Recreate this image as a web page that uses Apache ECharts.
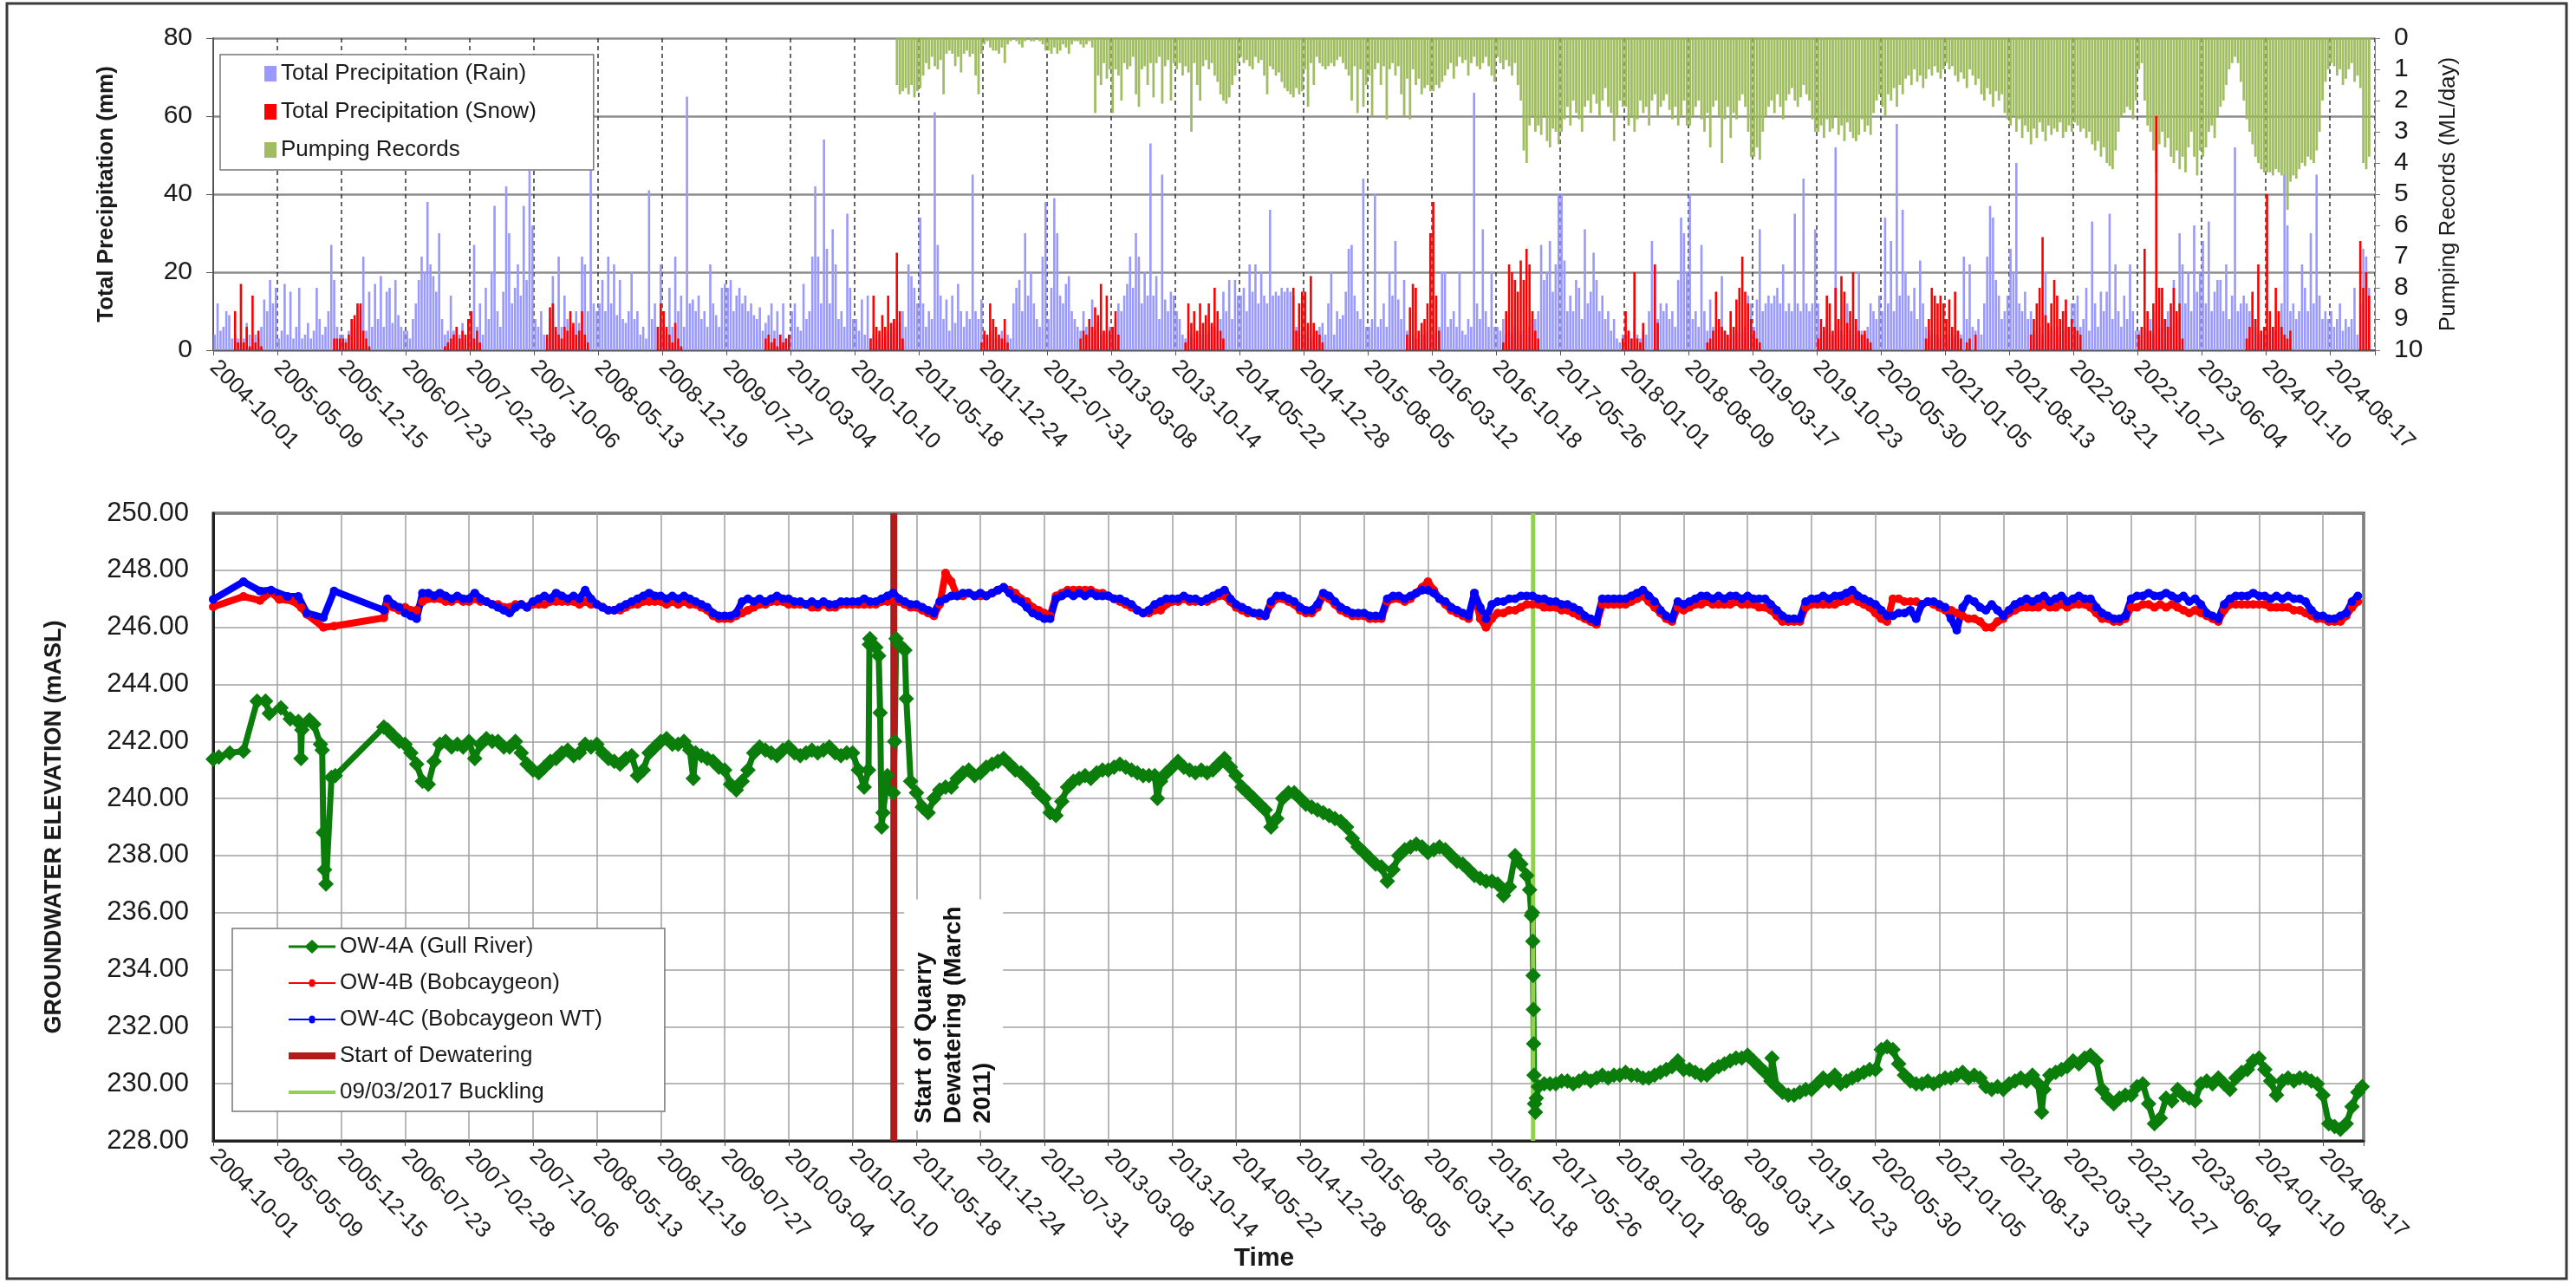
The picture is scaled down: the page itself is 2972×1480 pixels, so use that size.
<!DOCTYPE html>
<html>
<head>
<meta charset="utf-8">
<script src="https://cdn.jsdelivr.net/npm/echarts@6/dist/echarts.min.js"></script>
<style>html,body{margin:0;padding:0;background:#fff}#c{width:2972px;height:1480px}</style>
</head>
<body>
<div id="c"></div>
<script>
// ---------- time base ----------
const START_UTC = Date.UTC(2004, 9, 1);      // 2004-10-01 = day 0
const TICK_DAYS = 220;                        // tick spacing of both time axes
const BIN_DAYS = 10;                          // precipitation / pumping bin width (days)
const GW_STEP_DAYS = 20;                      // groundwater sample spacing (days)
const TOP_MAX_DAY = 7415;
const BOTTOM_MAX_DAY = 7400;
const DEWATER_DAY = 2342;                     // 2011-03-01
const BUCKLING_DAY = 4542;                    // 2017-03-09
const GW_MIN = 228, GW_MAX = 250;

// ---------- precipitation rain (mm), one row per 220-day tick interval, 10-day bins ----------
const rainRows = [
 [4,12,5,6,10,9,3,4,3,2,3,7,4,3,4,3,6,13,10,18,12,16],
 [3,5,17,4,15,3,6,16,3,4,7,3,5,16,8,4,6,10,27,18,6,4],
 [4,3,5,8,6,11,10,24,5,15,6,17,8,19,6,15,16,7,18,9,6,5],
 [5,3,8,12,18,24,20,38,22,19,15,30,8,4,5,14,5,6,4,7,3,5],
 [4,27,6,12,4,16,8,20,37,10,6,15,42,30,12,16,22,14,37,18,46,32],
 [8,6,10,4,3,8,19,5,24,6,14,8,5,6,10,7,24,22,10,47,12,10],
 [12,18,10,24,12,22,9,18,8,7,10,20,8,10,4,6,3,41,8,12,6,22],
 [8,4,16,6,24,10,14,6,65,12,13,10,14,8,10,6,22,12,9,6,16,17],
 [16,18,10,14,16,12,14,10,12,9,8,11,5,7,9,12,5,10,4,12,3,4],
 [10,12,6,5,17,8,10,24,42,24,12,54,26,12,31,22,8,10,6,35,16,8],
 [8,5,13,4,14,3,4,3,4,3,4,5,4,8,6,7,10,6,22,19,16,12],
 [34,12,6,10,8,61,27,14,8,13,5,14,7,17,10,6,10,8,45,10,8,13],
 [4,3,5,4,3,4,5,3,4,3,12,16,18,10,30,14,20,12,8,6,24,38],
 [8,16,39,30,14,12,17,19,10,8,6,5,10,6,4,13,5,7,4,5,4,6],
 [5,8,12,10,14,17,24,16,30,24,12,20,14,53,14,19,8,45,13,10,15,14],
 [10,8,4,3,5,4,3,4,5,4,4,5,6,6,5,8,15,10,18,8,18,14],
 [14,16,10,22,15,22,12,20,14,12,36,14,15,14,16,15,16,15,14,6,5,4],
 [4,5,3,4,5,6,7,4,12,20,4,10,8,9,15,26,27,14,10,8,44,6],
 [6,8,40,6,8,12,6,20,14,28,13,8,18,5,3,4,3,3,4,4,5,6],
 [4,5,6,20,20,6,8,10,6,20,5,4,8,6,66,12,8,31,10,6,20,6],
 [6,5,8,4,5,4,6,5,4,5,4,6,8,8,10,27,18,20,28,15,22,40],
 [40,23,10,14,10,18,16,8,31,12,15,25,18,10,14,8,10,5,8,3,2,4],
 [4,5,3,8,4,3,5,4,10,28,22,8,12,10,12,8,10,6,18,34,30,20],
 [40,8,10,6,27,10,5,13,6,5,6,19,5,4,3,4,5,4,5,6,14,12],
 [6,13,31,10,12,14,12,14,16,12,22,10,12,10,35,12,10,44,12,10,12,31],
 [12,4,5,8,4,4,52,6,5,4,12,5,4,6,20,5,4,6,12,10,8,14],
 [10,34,12,28,10,58,14,36,20,14,10,16,8,23,12,6,5,4,4,4,3,4],
 [3,4,3,4,5,4,24,8,22,6,5,8,4,12,24,37,34,18,14,8,10,14],
 [26,20,48,12,10,15,8,10,5,4,6,4,20,5,6,5,6,4,5,10,6,12],
 [12,14,6,8,16,5,33,12,6,15,10,15,35,8,22,10,6,14,8,22,10,5],
 [5,6,6,5,8,4,10,6,16,8,10,6,18,8,30,22,12,20,10,32,15,20],
 [28,12,33,10,15,18,18,10,22,8,14,52,10,12,14,12,10,14,6,4,5,4],
 [4,5,6,5,6,12,45,32,10,12,8,10,22,16,10,30,12,45,14,8,10,8],
 [10,6,8,12,5,8,6,8,16,4,12,26,24,16]
];

// ---------- precipitation snow (mm) ----------
const snowRows = [
 [0,0,0,0,0,0,0,10,2,17,2,6,1,14,2,5,1],
 [0,0,0,0,0,0,0,0,0,0,0,0,0,0,0,0,0,0,0,3,3,3],
 [3,2,4,8,9,12,12,5,3,1],
 [0,0,0,0,0,0,0,0,0,0,0,0,0,1,2,3,4,6,3,5,4,8],
 [10,3,5,2],
 [0,0,0,0,4,11,12,6,4,3,6,5,10,7,4,5,10,4,2],
 [0,0,0,0,0,0,0,0,0,0,0,0,0,0,0,0,0,0,0,0,6,12],
 [10,6,4,2,7,3,1],
 [0,0,0,0,0,0,0,0,0,0,0,0,0,3,4,2,3,1,4,2,3,4],
 [],
 [0,0,0,0,0,3,14,6,5,9,6,14,7,8,25,10,3],
 [0,0,0,0,0,0,0,0,0,0,0,0,0,0,0,0,0,0,0,0,0,2],
 [5,4,12,8,6,4,3,8,2],
 [0,0,0,0,0,0,0,0,0,0,0,3,5,4,8,6,11,9,17,5,14,5],
 [6,10,4],
 [0,0,0,2,12,7,10,5,12,7,9,12,7,16,10,5,3],
 [0,0,0,0,0,0,0,0,0,0,0,0,0,0,0,0,0,0,16,5,12,15],
 [15,7,19,7,5,4,2],
 [0,0,0,0,0,0,0,0,0,0,0,0,0,4,11,17,16,5,7,8,12,30],
 [38,14,5],
 [0,0,2,10,22,20,18,15,23,18,26,22,10,5,3],
 [0,0,0,0,0,0,0,0,0,0,0,0,0,0,0,0,0,0,0,0,0,3],
 [10,5,3,20,3,2,7,0,0,0,22,7],
 [0,0,0,0,0,0,2,3,5,15,8,6,5,4,10,6,13,16,24,15,12,8],
 [5,3,2],
 [3,8,6,14,12,5,16,8,19,15,7,10,20,8,5,4,5,3,2],
 [0,0,0,0,0,0,0,0,0,0,0,0,0,0,0,3,8,16,14,12,14,12],
 [8,13,6,15,5,3,0,2,3,0,4],
 [0,0,0,0,0,0,0,4,8,12,16,29,9,7,12,18,14,8,10,13,6,8],
 [6,5,4],
 [4,6,26,10,5,12,60,16,16,8,6,12,16,10,12,3],
 [0,0,0,0,0,0,0,0,0,0,0,0,0,0,0,3,6,15,8,22,5,6],
 [40,10,6,16,10,6,4,3,5],
 [0,0,0,0,0,0,0,0,0,0,28,16,20,14]
];

// ---------- pumping records (ML/day) ----------
const pumpRows = [
 [],[],[],[],[],[],[],[],[],[],
 [0,0,0,0,0,0,0,0,0,0,0,0,0,0,1.5,1.8,1.7,1.6,1.8,1.5,1.9,1.7],
 [1.6,1.2,0.8,1.0,0.6,0.9,1.0,0.7,1.8,0.5,0.4,0.5,0.9,0.6,1.1,0.5,0.4,0.6,0.5,1.2,1.8,0.5],
 [0.2,0.1,0.3,0.4,0.4,0.5,0.3,0.8,0.2,0.1,0,0.1,0.2,0.3,0.1,0,0.1,0.1,0,0.1,0.2,0.4],
 [0.4,0.5,0.3,0.5,0.4,0.2,0.3,0.5,0.2,0.1,0.1,0.2,0.3,0.2,0.1,0.3,2.4,1.2,1.5,0.8,1.3,1.0],
 [2.4,1.0,1.2,2.0,0.8,1.0,0.9,0.6,1.8,2.2,1.0,0.9,1.5,0.8,1.9,0.8,0.6,2.1,0.9,0.7,2.0,0.8],
 [1.0,0.8,1.2,0.9,1.1,3.0,0.8,1.5,2.0,0.9,0.7,1.0,0.8,1.2,1.4,1.8,2.0,2.1,1.9,1.5,1.2,0.8],
 [0.6,0.8,0.7,0.9,1.0,0.6,0.8,0.7,1.2,1.8,0.9,1.0,1.2,1.1,1.4,1.6,1.7,1.8,1.9,1.6,1.8,1.7],
 [1.0,2.2,0.8,1.5,0.6,0.8,0.9,1.0,0.9,0.8,0.9,0.7,0.6,0.8,1.0,1.2,2.0,0.9,2.4,1.0,2.2,1.5],
 [1.2,2.5,1.0,0.8,1.5,0.9,2.6,1.0,0.8,1.2,0.9,1.8,2.5,1.3,2.6,1.0,1.5,1.3,1.8,1.6,1.5,1.7],
 [1.7,1.5,1.6,1.4,1.2,1.0,0.8,1.3,0.9,0.6,0.8,0.7,1.2,0.8,0.6,0.9,1.0,0.8,0.6,0.9,1.2,1.4],
 [0.6,0.8,1.0,0.7,0.9,1.2,0.8,1.5,2.0,3.6,4.0,2.8,2.5,3.0,2.8,3.1,2.5,3.3,3.5,2.9,3.0,3.4],
 [3.0,2.6,2.2,2.8,2.0,2.4,2.6,3.0,2.2,2.0,2.4,1.8,2.1,2.5,2.0,1.6,2.2,2.4,3.3,2.5,2.0,2.2],
 [2.2,2.8,2.5,3.0,2.6,2.0,2.4,2.2,2.8,2.0,1.8,2.5,2.2,2.0,1.8,2.3,2.6,2.2,2.8,2.5,2.0,2.8],
 [2.8,2.5,2.2,2.0,2.6,3.0,2.4,3.5,2.2,2.0,2.5,4.0,2.6,2.2,3.2,2.4,2.6,2.0,1.8,2.2,3.0,3.8],
 [3.8,3.5,3.9,3.0,2.5,2.2,2.0,2.4,1.8,2.2,2.6,2.0,1.8,1.6,2.0,2.2,1.9,1.5,1.8,2.0,2.6,3.0],
 [3.0,2.8,3.2,2.6,3.0,2.9,2.5,3.1,2.8,3.3,2.7,3.0,3.2,3.3,3.1,2.6,3.0,2.8,3.1,2.4,2.0,1.8],
 [2.2,2.5,1.8,2.0,1.6,2.2,1.5,1.8,1.3,1.2,1.5,1.0,1.4,1.2,1.6,1.3,1.0,1.2,0.9,1.1,1.3,1.0],
 [0.8,1.0,0.9,1.2,1.4,1.1,1.3,1.6,1.0,1.2,1.5,1.3,1.8,2.0,1.6,1.8,2.2,1.7,2.0,1.8,2.4,2.6],
 [2.8,2.5,3.0,2.6,3.2,2.8,3.0,3.4,2.9,3.2,2.7,3.0,3.3,2.8,3.1,2.9,3.0,2.7,3.2,3.0,2.8,3.0],
 [2.7,2.8,3.0,2.9,3.2,3.0,3.4,3.6,3.3,3.8,3.5,4.0,4.1,4.2,3.6,3.0,2.5,2.4,2.2,2.3,2.6,2.0],
 [1.0,0.8,2.0,2.8,3.0,3.6,4.3,3.4,3.0,3.5,3.2,3.8,4.0,3.6,4.2,3.8,4.3,3.5,3.0,3.8,4.4,3.6],
 [3.8,3.5,3.0,2.8,3.2,2.5,2.2,2.0,1.5,1.0,0.8,0.6,0.8,1.4,2.0,2.6,3.0,3.4,3.8,4.0,4.2,4.3],
 [4.3,4.3,4.4,4.2,4.3,4.4,5.0,5.5,4.6,4.4,4.5,4.2,4.0,4.1,3.8,3.9,4.0,3.6,3.0,2.0,1.4,1.0],
 [0.8,0.9,1.2,1.0,1.5,1.3,1.0,0.8,1.4,1.2,1.6,4.0,4.2,3.8]
];

// ---------- groundwater elevations (mASL), one row per tick interval, 20-day steps ----------
const gw4ARows = [
 [],[],
 [null,null,null,null,null,null,null,null,242.4,242.2,242.0],
 [241.9,241.6,241.2,240.6,240.5,241.3,241.9,242.0,241.8,241.9,241.8],
 [242.0,241.4,241.9,242.1,242.0,242.0,241.8,241.8,242.0,241.6,241.2],
 [241.0,240.9,241.1,241.3,241.4,241.6,241.7,241.5,241.6,241.9,241.8],
 [241.9,241.6,241.4,241.3,241.2,241.4,241.5,240.8,241.0,241.6,241.8],
 [242.0,242.1,241.9,241.9,242.0,241.7,241.6,241.5,241.4,241.3,241.1],
 [241.0,240.5,240.3,240.6,241.0,241.6,241.8,241.7,241.6,241.5,241.7],
 [241.8,241.6,241.5,241.6,241.7,241.6,241.7,241.8,241.6,241.5,241.6],
 [241.6,241.0,240.4,245.6,245.3,239.0,240.8,240.2,245.4,245.2,240.6],
 [240.2,239.7,239.5,240.0,240.3,240.4,240.4,240.7,240.9,241.0,240.8],
 [240.9,241.1,241.2,241.3,241.4,241.2,241.0,240.9,240.7,240.5,240.2],
 [240.0,239.5,239.4,239.9,240.4,240.6,240.7,240.8,240.7,240.9,241.0],
 [241.0,241.1,241.2,241.1,241.0,240.9,240.8,240.8,240.8,240.6,240.9],
 [241.1,241.3,241.1,241.0,240.9,241.0,240.9,241.0,241.2,241.4,241.1],
 [240.8,240.4,240.2,240.0,239.8,239.6,239.0,239.3,240.0,240.2,240.2],
 [240.0,239.8,239.7,239.6,239.5,239.4,239.3,239.2,239.0,238.6,238.3],
 [238.1,237.9,237.7,237.6,237.1,237.5,238.0,238.2,238.3,238.4,238.3],
 [238.1,238.2,238.3,238.2,238.0,237.8,237.7,237.5,237.3,237.2,237.1],
 [237.1,237.0,236.6,236.9,238.0,237.7,237.3,236.0,229.9,230.0,230.0],
 [230.0,230.1,230.1,230.0,230.1,230.2,230.1,230.2,230.3,230.2,230.3],
 [230.3,230.4,230.3,230.3,230.2,230.2,230.3,230.4,230.5,230.6,230.8],
 [230.5,230.5,230.4,230.3,230.3,230.5,230.6,230.7,230.8,230.9,230.9],
 [231.0,230.8,230.6,230.4,230.1,229.9,229.7,229.6,229.6,229.7,229.8],
 [229.8,230.0,230.2,230.1,230.3,230.0,230.1,230.2,230.3,230.4,230.5],
 [230.5,231.2,231.3,231.2,230.7,230.3,230.1,230.0,230.0,230.1,230.0],
 [230.1,230.2,230.2,230.3,230.4,230.2,230.3,230.2,229.9,229.8,229.9],
 [229.8,230.0,230.1,230.2,230.1,230.3,230.0,229.8,230.3,230.4,230.5],
 [230.6,230.8,230.7,230.9,231.0,230.8,229.8,229.5,229.3,229.5,229.6],
 [229.6,229.9,230.0,229.3,228.6,228.8,229.5,229.4,229.8,229.6,229.5],
 [229.4,230.0,230.1,230.0,230.2,230.0,229.8,230.2,230.4,230.5,230.8],
 [230.9,230.5,230.1,229.6,230.1,230.2,230.1,230.2,230.2,230.1,230.0],
 [229.6,228.6,228.5,228.4,228.6,229.2,229.7]
];
// irregular OW-4A readings: [day, mASL]
const gw4AExtra = [
 [0,241.38],[19,241.45],[57,241.6],[104,241.66],[151,243.41],[180,243.41],[193,242.98],[233,243.18],
 [265,242.79],[293,242.7],[300,242.6],[302,241.4],[305,242.4],[331,242.75],[346,242.6],[369,241.9],
 [375,241.7],[379,238.8],[383,237.5],[388,237.0],[407,240.74],[420,240.8],[587,242.5],
 [1652,240.7],[2255,241.0],[2258,245.4],[2290,245.0],[2295,243.0],[2305,239.5],[2345,242.0],
 [2350,245.6],[2385,243.5],[3249,240.0],[4530,236.8],[4536,235.9],[4541,235.0],[4542,233.8],
 [4543,232.6],[4544,231.4],[4545,230.3],[4547,229.3],[4550,229.0],[4553,229.5],[5364,230.9],
 [6292,229.0],[7395,229.9]
];

const gw4BRows = [
 [],[],
 [null,null,null,null,null,null,null,null,246.8,246.7,246.6],
 [246.7,246.6,246.6,246.9,247.0,247.0,247.0,246.9,246.9,247.0,246.9],
 [246.9,247.0,246.9,246.9,246.8,246.8,246.7,246.7,246.8,246.8,246.7],
 [246.8,246.8,246.8,246.9,246.9,246.9,246.9,246.9,246.8,246.9,246.8],
 [246.8,246.7,246.6,246.6,246.6,246.7,246.8,246.8,246.9,246.9,246.9],
 [246.9,246.8,246.9,246.8,246.9,246.8,246.8,246.7,246.6,246.4,246.3],
 [246.3,246.3,246.4,246.5,246.6,246.7,246.8,246.8,246.9,246.9,246.9],
 [246.8,246.8,246.8,246.8,246.7,246.7,246.8,246.7,246.7,246.8,246.8],
 [246.8,246.8,246.8,246.8,246.8,246.9,246.9,247.0,246.9,246.8,246.7],
 [246.7,246.6,246.5,246.4,246.8,247.9,247.6,247.1,247.1,247.2,247.1],
 [247.1,247.1,247.2,247.3,247.4,247.3,247.2,247.0,246.9,246.7,246.6],
 [246.5,246.4,247.1,247.2,247.3,247.3,247.3,247.3,247.3,247.2,247.2],
 [247.1,247.0,246.9,246.8,246.7,246.6,246.5,246.5,246.6,246.6,246.8],
 [246.9,246.9,247.0,246.9,246.9,246.9,246.9,247.0,247.1,247.1,246.9],
 [246.7,246.6,246.5,246.5,246.4,246.4,246.8,247.0,247.0,246.9,246.8],
 [246.6,246.5,246.5,246.7,247.1,247.0,246.8,246.6,246.5,246.4,246.4],
 [246.4,246.3,246.3,246.3,246.9,247.0,247.0,246.9,247.0,247.2,247.4],
 [247.6,247.3,247.0,246.8,246.6,246.5,246.4,246.3,247.2,246.3,246.0],
 [246.3,246.5,246.5,246.6,246.6,246.7,246.8,246.8,246.8,246.7,246.7],
 [246.7,246.6,246.6,246.5,246.4,246.3,246.2,246.1,246.8,246.8,246.8],
 [246.8,246.8,246.9,247.0,247.1,246.9,246.7,246.5,246.3,246.2,246.7],
 [246.6,246.7,246.8,246.8,246.9,246.8,246.8,246.8,246.8,246.9,246.8],
 [246.8,246.8,246.7,246.7,246.6,246.4,246.2,246.2,246.2,246.2,246.7],
 [246.8,246.8,246.8,246.8,246.8,246.9,246.9,247.0,246.9,246.8,246.7],
 [246.5,246.3,246.2,247.0,247.0,246.9,246.9,246.9,246.8,246.9,246.8],
 [246.7,246.6,246.6,246.5,246.4,246.3,246.3,246.2,246.0,246.0,246.2],
 [246.3,246.5,246.6,246.7,246.7,246.7,246.7,246.8,246.7,246.7,246.8],
 [246.7,246.8,246.8,246.8,246.7,246.5,246.3,246.3,246.2,246.2,246.3],
 [246.7,246.7,246.8,246.8,246.7,246.8,246.7,246.8,246.7,246.6,246.5],
 [246.6,246.5,246.4,246.3,246.2,246.6,246.8,246.8,246.8,246.8,246.8],
 [246.8,246.8,246.7,246.7,246.7,246.7,246.6,246.6,246.5,246.4,246.3],
 [246.3,246.2,246.2,246.2,246.4,246.7,246.9]
];
const gw4BExtra = [
 [0,246.72],[104,247.08],[161,246.94],[199,247.23],[227,246.98],[274,246.92],[303,246.69],
 [322,246.45],[379,246.0],[416,246.04],[587,246.33]
];

const gw4CRows = [
 [],[],
 [null,null,null,null,null,null,null,null,247.0,246.8,246.7],
 [246.5,246.4,246.3,247.2,247.2,247.1,247.2,247.1,247.0,247.1,247.0],
 [247.0,247.2,247.0,246.9,246.8,246.7,246.6,246.5,246.7,246.8,246.7],
 [246.9,247.0,247.1,247.0,247.2,247.1,247.0,247.1,247.0,247.3,247.0],
 [246.8,246.7,246.6,246.6,246.7,246.8,246.9,247.0,247.1,247.2,247.1],
 [247.1,247.0,247.1,247.0,247.1,247.0,246.9,246.8,246.7,246.5,246.4],
 [246.4,246.4,246.5,246.9,247.0,246.9,247.0,246.9,247.0,247.1,247.0],
 [247.0,246.9,246.9,246.8,246.9,246.8,246.9,246.8,246.8,246.9,246.9],
 [246.9,246.9,247.0,246.9,246.9,247.0,247.1,247.2,247.0,246.9,246.8],
 [246.8,246.7,246.6,246.5,246.9,247.0,247.1,247.1,247.2,247.2,247.1],
 [247.2,247.1,247.2,247.3,247.4,247.2,247.0,246.9,246.7,246.5,246.4],
 [246.3,246.3,247.0,247.1,247.2,247.1,247.2,247.1,247.2,247.1,247.1],
 [247.1,247.0,247.0,246.9,246.8,246.6,246.5,246.6,246.8,246.9,247.0],
 [247.0,247.0,247.1,247.0,247.0,246.9,247.0,247.1,247.2,247.3,247.0],
 [246.8,246.7,246.6,246.5,246.5,246.4,246.9,247.1,247.1,247.0,246.9],
 [246.7,246.6,246.6,246.8,247.2,247.1,246.9,246.7,246.6,246.5,246.5],
 [246.5,246.4,246.4,246.4,247.0,247.1,247.1,247.0,247.1,247.2,247.3],
 [247.3,247.2,247.0,246.9,246.7,246.6,246.5,246.4,247.2,246.7,246.3],
 [246.8,246.9,246.9,247.0,247.0,247.1,247.1,247.1,247.0,247.0,246.9],
 [246.9,246.8,246.8,246.7,246.6,246.4,246.3,246.2,247.0,247.0,247.0],
 [247.0,247.0,247.1,247.2,247.3,247.1,246.9,246.6,246.4,246.3,246.9],
 [246.8,246.9,247.0,247.1,247.1,247.0,247.1,247.0,247.1,247.1,247.0],
 [247.1,247.0,247.0,247.0,246.8,246.6,246.4,246.3,246.3,246.3,246.9],
 [247.0,247.0,247.1,247.0,247.1,247.1,247.2,247.3,247.1,247.0,246.9],
 [246.8,246.6,246.4,246.4,246.5,246.5,246.6,246.3,246.8,246.9,246.9],
 [246.8,246.7,246.3,245.9,246.7,247.0,246.9,246.7,246.6,246.8,246.6],
 [246.4,246.6,246.8,246.9,247.0,246.9,247.0,247.1,246.9,247.0,247.1],
 [246.9,247.0,247.1,247.0,247.0,246.7,246.5,246.4,246.3,246.3,246.4],
 [247.0,247.1,247.1,247.2,247.1,247.1,247.2,247.1,247.0,247.1,246.9],
 [247.0,246.8,246.5,246.4,246.3,246.8,247.0,247.1,247.1,247.1,247.2],
 [247.1,247.1,247.0,247.1,247.0,247.1,247.0,247.0,246.9,246.6,246.4],
 [246.4,246.3,246.3,246.4,246.5,246.9,247.1]
];
const gw4CExtra = [
 [0,246.98],[104,247.6],[161,247.27],[199,247.3],[256,247.08],[293,247.08],[322,246.5],
 [379,246.34],[416,247.27],[587,246.6]
];

// ---------- build series data ----------
const binData = rows => rows.flatMap((row, k) => row.map((v, j) =>
  (v ? [k * TICK_DAYS + j * BIN_DAYS + BIN_DAYS / 2, v] : null))).filter(Boolean);
const gwData = (rows, extra) => rows.flatMap((row, k) => row.map((v, j) =>
  (v == null ? null : [k * TICK_DAYS + j * GW_STEP_DAYS, v]))).filter(Boolean)
  .concat(extra).sort((a, b) => a[0] - b[0]);
const dayToDate = d => new Date(START_UTC + d * 86400000).toISOString().slice(0, 10);
const tickLabel = v => (Math.round(v) % TICK_DAYS === 0 ? dayToDate(Math.round(v)) : '');

const FONT = "'Liberation Sans', Arial, Helvetica, sans-serif";
const TXT = '#1a1a1a';
const C_RAIN = '#9999ff', C_SNOW = '#ff0000', C_PUMP = '#9bbb59';
const C_4A = '#0a7d0a', C_4B = '#ff0000', C_4C = '#0000ff', C_DEW = '#b01c1c', C_BUCK = '#92d050';

const ICON_DIAMOND = 'path://M0,6.5h20l7,-6.5l7,6.5h20v3h-20l-7,6.5l-7,-6.5h-20z';
const ICON_DOT = 'path://M0,3h23.5a3.5,3.5 0 0,1 7,0h23.5v2h-23.5a3.5,3.5 0 0,1 -7,0h-23.5z';
const ICON_THICK = 'path://M0,0h54v8h-54z';
const ICON_THIN = 'path://M0,0h54v4h-54z';

const chart = echarts.init(document.getElementById('c'), null, {renderer: 'canvas', width: 2972, height: 1480});

const legendText = {fontSize: 26, color: TXT, lineHeight: 26, fontFamily: FONT};
const option = {
  animation: false,
  backgroundColor: '#ffffff',
  textStyle: {fontFamily: FONT},
  grid: [
    {left: 246, top: 44, width: 2494, height: 360, outerBoundsMode: 'none'},
    {left: 246, top: 592, width: 2481, height: 724, show: true, borderColor: '#222', borderWidth: 3,
     backgroundColor: 'transparent', outerBoundsMode: 'none'}
  ],
  xAxis: [
    {type: 'value', gridIndex: 0, min: 0, max: TOP_MAX_DAY, interval: TICK_DAYS,
     axisLine: {show: true, onZero: false, lineStyle: {color: '#555', width: 2}},
     axisTick: {show: true, length: 6, lineStyle: {color: '#555'}},
     axisLabel: {rotate: -45, fontSize: 26, color: TXT, margin: 16, formatter: tickLabel, hideOverlap: false},
     splitLine: {show: true, lineStyle: {color: '#333', width: 1.5, type: [5, 4]}}},
    {type: 'value', gridIndex: 1, min: 0, max: BOTTOM_MAX_DAY, interval: TICK_DAYS,
     name: 'Time', nameLocation: 'middle', nameGap: 115,
     nameTextStyle: {fontSize: 30, fontWeight: 'bold', color: TXT, padding: [0, 56, 0, 0]},
     axisLine: {show: true, onZero: false, lineStyle: {color: '#222', width: 3}},
     axisTick: {show: true, length: 6, lineStyle: {color: '#444'}},
     axisLabel: {rotate: -45, fontSize: 26, color: TXT, margin: 14, formatter: tickLabel, hideOverlap: false},
     splitLine: {show: true, lineStyle: {color: '#a0a0a0', width: 1.5}}}
  ],
  yAxis: [
    {type: 'value', gridIndex: 0, min: 0, max: 80, interval: 20,
     name: 'Total Precipitation (mm)', nameLocation: 'middle', nameRotate: 90, nameGap: 110,
     nameTextStyle: {fontSize: 26, fontWeight: 'bold', color: TXT},
     axisLine: {show: true, onZero: false, lineStyle: {color: '#555', width: 2}},
     axisTick: {show: true, length: 8, lineStyle: {color: '#555'}},
     axisLabel: {fontSize: 30, color: TXT, margin: 24},
     splitLine: {show: true, lineStyle: {color: '#8c8c8c', width: 2.5}}},
    {type: 'value', gridIndex: 0, position: 'right', inverse: true, min: 0, max: 10, interval: 1,
     name: 'Pumping Records (ML/day)', nameLocation: 'middle', nameRotate: 90, nameGap: 72,
     nameTextStyle: {fontSize: 26, color: TXT},
     axisLine: {show: true, onZero: false, lineStyle: {color: '#888', width: 1}},
     axisTick: {show: true, length: 6, lineStyle: {color: '#777'}},
     axisLabel: {fontSize: 30, color: TXT, margin: 22},
     splitLine: {show: false}},
    {type: 'value', gridIndex: 1, min: GW_MIN, max: GW_MAX, interval: 2,
     name: 'GROUNDWATER ELEVATION (mASL)', nameLocation: 'middle', nameRotate: 90, nameGap: 170,
     nameTextStyle: {fontSize: 27, fontWeight: 'bold', color: TXT},
     axisLine: {show: true, onZero: false, lineStyle: {color: '#222', width: 3}},
     axisTick: {show: false},
     axisLabel: {fontSize: 31, color: TXT, margin: 28, formatter: v => v.toFixed(2)},
     splitLine: {show: true, lineStyle: {color: '#a0a0a0', width: 1.5}}}
  ],
  legend: [
    {orient: 'vertical', left: 254, top: 63, padding: [9, 66, 10, 51], itemGap: 18,
     itemWidth: 14, itemHeight: 18, icon: 'rect', selectedMode: false,
     backgroundColor: '#fff', borderColor: '#777', borderWidth: 1.5, textStyle: legendText,
     itemStyle: {borderWidth: 0},
     data: ['Total Precipitation (Rain)', 'Total Precipitation (Snow)', 'Pumping Records']},
    {orient: 'vertical', left: 268, top: 1071, padding: [8, 72, 9, 65], itemGap: 16,
     itemWidth: 54, itemHeight: 26, selectedMode: false,
     backgroundColor: '#fff', borderColor: '#777', borderWidth: 1.5, textStyle: legendText,
     itemStyle: {borderWidth: 0},
     data: [
       {name: 'OW-4A (Gull River)', icon: ICON_DIAMOND, itemStyle: {color: C_4A}},
       {name: 'OW-4B (Bobcaygeon)', icon: ICON_DOT, itemStyle: {color: C_4B}},
       {name: 'OW-4C (Bobcaygeon WT)', icon: ICON_DOT, itemStyle: {color: C_4C}},
       {name: 'Start of Dewatering', icon: ICON_THICK, itemStyle: {color: C_DEW}},
       {name: '09/03/2017 Buckling', icon: ICON_THIN, itemStyle: {color: C_BUCK}}
     ]}
  ],
  series: [
    {name: 'Pumping Records', type: 'bar', xAxisIndex: 0, yAxisIndex: 1, data: binData(pumpRows),
     barWidth: 2.8, barGap: '-100%', itemStyle: {color: C_PUMP, opacity: 0.95}, silent: true},
    {name: 'Total Precipitation (Rain)', type: 'bar', xAxisIndex: 0, yAxisIndex: 0, data: binData(rainRows),
     barWidth: 2.6, barGap: '-100%', itemStyle: {color: C_RAIN}, silent: true},
    {name: 'Total Precipitation (Snow)', type: 'bar', xAxisIndex: 0, yAxisIndex: 0, data: binData(snowRows),
     barWidth: 2.6, barGap: '-100%', itemStyle: {color: C_SNOW}, silent: true},
    {name: 'OW-4A (Gull River)', type: 'line', xAxisIndex: 1, yAxisIndex: 2, data: gwData(gw4ARows, gw4AExtra),
     symbol: 'diamond', symbolSize: 18, lineStyle: {width: 7, color: C_4A}, itemStyle: {color: C_4A}, silent: true},
    {name: 'OW-4B (Bobcaygeon)', type: 'line', xAxisIndex: 1, yAxisIndex: 2, data: gwData(gw4BRows, gw4BExtra),
     symbol: 'circle', symbolSize: 10, lineStyle: {width: 8, color: C_4B}, itemStyle: {color: C_4B}, silent: true},
    {name: 'OW-4C (Bobcaygeon WT)', type: 'line', xAxisIndex: 1, yAxisIndex: 2, data: gwData(gw4CRows, gw4CExtra),
     symbol: 'circle', symbolSize: 10, lineStyle: {width: 8, color: C_4C}, itemStyle: {color: C_4C}, silent: true},
    {name: 'Start of Dewatering', type: 'line', xAxisIndex: 1, yAxisIndex: 2,
     data: [[DEWATER_DAY, GW_MIN], [DEWATER_DAY, GW_MAX]], symbol: 'none',
     lineStyle: {width: 8, color: C_DEW}, itemStyle: {color: C_DEW}, silent: true},
    {name: '09/03/2017 Buckling', type: 'line', xAxisIndex: 1, yAxisIndex: 2,
     data: [[BUCKLING_DAY, GW_MIN], [BUCKLING_DAY, GW_MAX]], symbol: 'none',
     lineStyle: {width: 5, color: C_BUCK}, itemStyle: {color: C_BUCK}, silent: true}
  ]
};
chart.setOption(option);

const anchor = chart.convertToPixel({gridIndex: 1}, [DEWATER_DAY, GW_MIN]);
chart.setOption({
  graphic: [
    {type: 'rect', z: 100, silent: true, shape: {x: 8, y: 4, width: 2953, height: 1471},
     style: {fill: 'none', stroke: '#3a3a3a', lineWidth: 3}},
    {type: 'text', z: 100, silent: true, x: anchor[0] + 12, y: anchor[1] - 12, rotation: Math.PI / 2,
     style: {text: 'Start of Quarry\nDewatering (March\n2011)', fontSize: 28, fontWeight: 'bold',
             fontFamily: FONT, fill: '#111', align: 'left', verticalAlign: 'top', lineHeight: 34,
             backgroundColor: '#fff', padding: [6, 8]}}
  ]
});
</script>
</body>
</html>
